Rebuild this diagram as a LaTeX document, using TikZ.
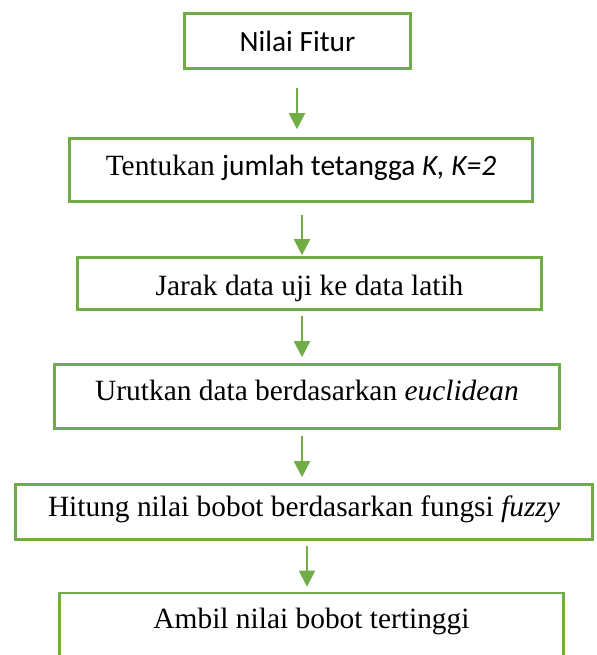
\documentclass[tikz,border=0pt]{standalone}
\usepackage{fontspec}
\setmainfont{Liberation Serif}
\newfontfamily\calibri{Carlito}
\usetikzlibrary{arrows.meta}
\definecolor{hijau}{RGB}{112,173,71}

\begin{document}
\begin{tikzpicture}[x=0.5pt,y=-0.5pt,
    kotak/.style={draw=hijau,line width=1.3pt,rectangle,inner sep=0pt,
        text height=10pt,text depth=3pt,font=\fontsize{14.7}{17}\selectfont},
    panah/.style={draw=hijau,line width=1pt,-{Triangle[width=8pt,length=8pt]}}]
    \clip (0,0) rectangle (596,655);
    %Kotak
    \node[kotak,minimum width=113pt,minimum height=27.5pt,text height=10.5pt,text depth=0pt] (b1) at (297.5,41) {\calibri Nilai Fitur};
    \node[kotak,minimum width=231.5pt,minimum height=31.5pt,text depth=5pt] (b2) at (301,170) {Tentukan {\calibri jumlah tetangga \textit{K, K=2}}};
    \node[kotak,minimum width=232pt,minimum height=26pt,text height=11.5pt,text depth=0pt] (b3) at (309.5,283.5) {Jarak data uji ke data latih};
    \node[kotak,minimum width=252.5pt,minimum height=32pt,text depth=6.5pt] (b4) at (307,396.5) {Urutkan data berdasarkan \textit{euclidean}};
    \node[kotak,minimum width=288.5pt,minimum height=27.5pt,text depth=5.5pt] (b5) at (304,512) {Hitung nilai bobot berdasarkan fungsi \textit{fuzzy}};
    \node[kotak,minimum width=252pt,minimum height=34pt,text depth=8.5pt] (b6) at (311.5,627) {Ambil nilai bobot tertinggi};

    %Panah
    \coordinate (x1) at (297,0);
    \coordinate (x2) at (302,0);
    \coordinate (x3) at (307,0);
    \draw[panah,shorten <=9pt,shorten >=4pt] (b1.south -| x1) -- (b2.north -| x1);
    \draw[panah,shorten <=6pt,shorten >=0.5pt] (b2.south -| x2) -- (b3.north -| x2);
    \draw[panah,shorten <=2.5pt,shorten >=3pt] (b3.south -| x2) -- (b4.north -| x2);
    \draw[panah,shorten <=3pt,shorten >=3pt] (b4.south -| x2) -- (b5.north -| x2);
    \draw[panah,shorten <=2.5pt,shorten >=2.5pt] (b5.south -| x3) -- (b6.north -| x3);
\end{tikzpicture}
\end{document}
